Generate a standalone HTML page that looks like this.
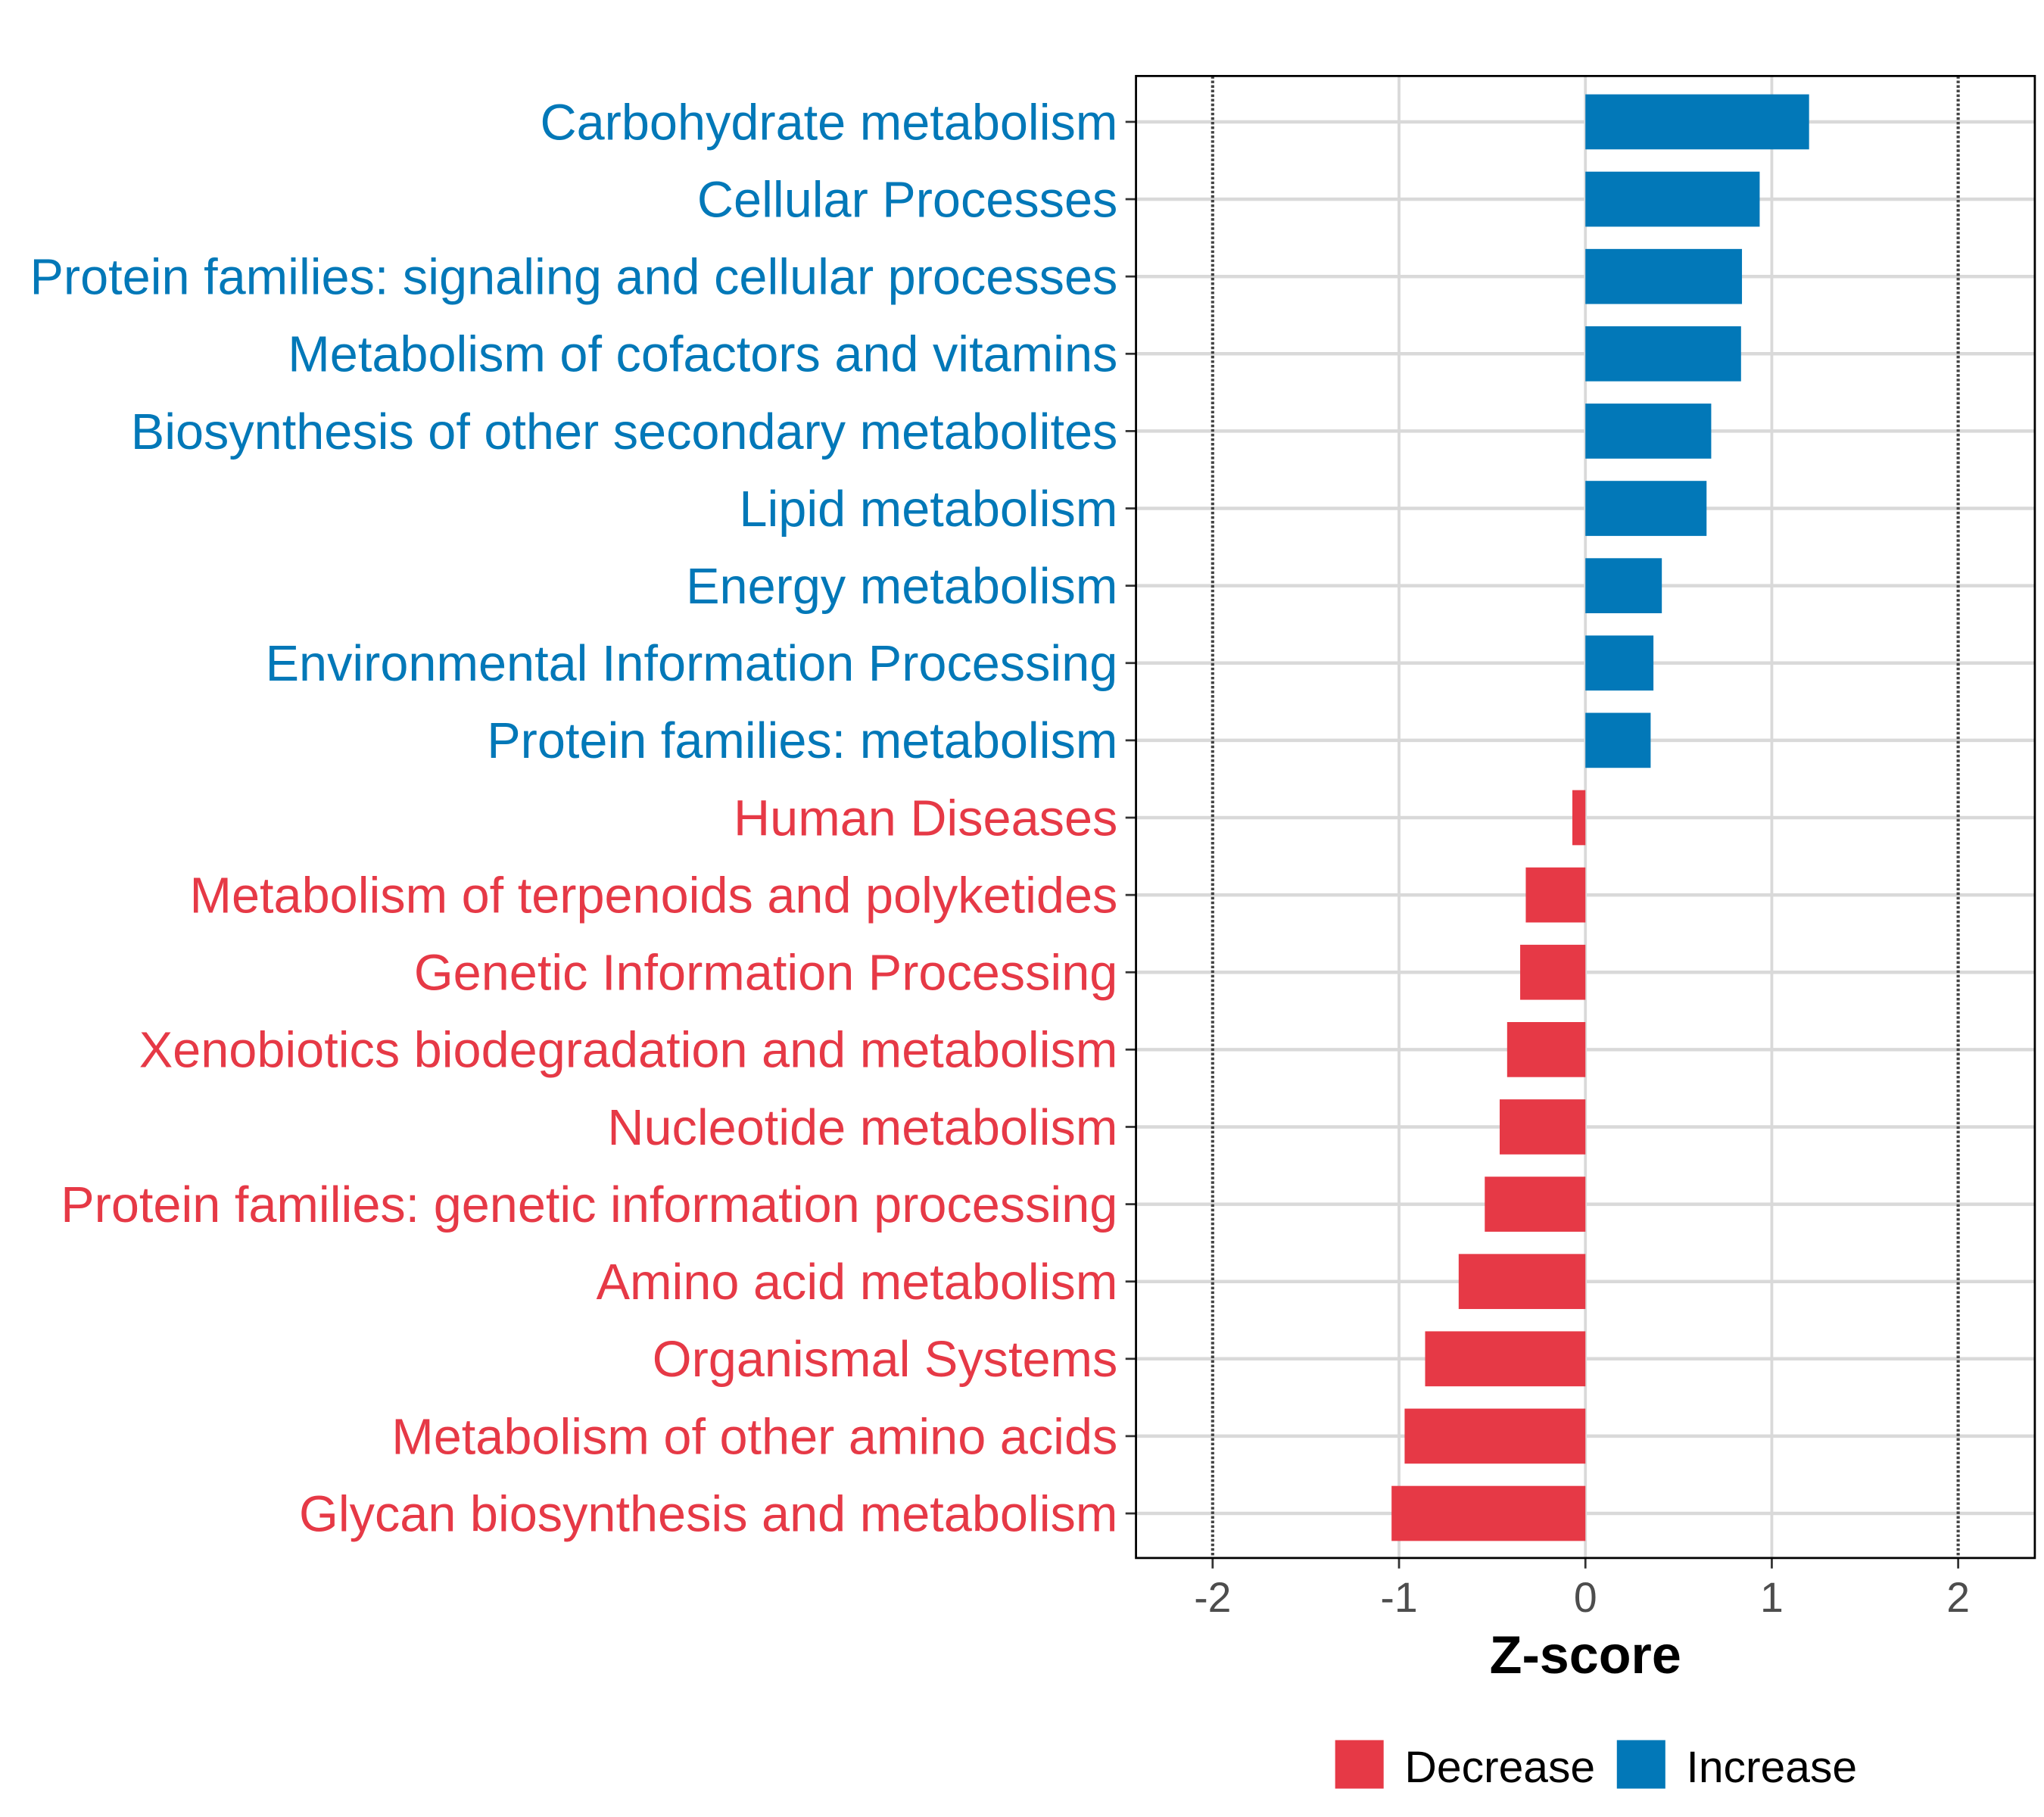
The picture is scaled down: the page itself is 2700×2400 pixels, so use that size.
<!DOCTYPE html>
<html><head><meta charset="utf-8"><style>html,body{margin:0;padding:0;background:#fff}svg{display:block}</style></head>
<body>
<svg id="chart" width="2700" height="2400" viewBox="0 0 1560 1386.67" preserveAspectRatio="none" xmlns="http://www.w3.org/2000/svg" font-family="Liberation Sans, Arial, sans-serif">
<rect x="0" y="0" width="1560" height="1386.67" fill="#fff"/>
<g id="grid"></g>
<g id="bars"></g>
<g id="ylabels"></g>
<g id="xaxis"></g>
<rect x="867" y="58" width="686" height="1131" fill="none" stroke="#000" stroke-width="1.6"/>
<text x="1210" y="1277" font-size="40.5" font-weight="bold" text-anchor="middle" fill="#000">Z-score</text>
<g>
<rect x="1019" y="1328" width="37" height="37" fill="#E63946"/>
<text x="1072" y="1360" font-size="34" fill="#000">Decrease</text>
<rect x="1234" y="1328" width="37" height="37" fill="#0278B8"/>
<text x="1287" y="1360" font-size="34" fill="#000">Increase</text>
</g>
</svg>
<script>
const categories = ["Carbohydrate metabolism","Cellular Processes","Protein families: signaling and cellular processes","Metabolism of cofactors and vitamins","Biosynthesis of other secondary metabolites","Lipid metabolism","Energy metabolism","Environmental Information Processing","Protein families: metabolism","Human Diseases","Metabolism of terpenoids and polyketides","Genetic Information Processing","Xenobiotics biodegradation and metabolism","Nucleotide metabolism","Protein families: genetic information processing","Amino acid metabolism","Organismal Systems","Metabolism of other amino acids","Glycan biosynthesis and metabolism"];
const zscores = [1.20,0.935,0.84,0.835,0.675,0.65,0.41,0.365,0.35,-0.07,-0.32,-0.35,-0.42,-0.46,-0.54,-0.68,-0.86,-0.97,-1.04];
const xTicks = [-2,-1,0,1,2];
const xTickLabels = ["-2","-1","0","1","2"];
const refLines = [-2,2];

const NS="http://www.w3.org/2000/svg";
const PL=867, PR=1553, PT=58, PB=1189;
function xs(v){ return 1210 + v*142.25; }
function ys(i){ return 93 + i*59; }
function mk(tag, attrs, parent){ const e=document.createElementNS(NS,tag); for(const k in attrs) e.setAttribute(k,attrs[k]); parent.appendChild(e); return e; }
const grid=document.getElementById('grid'), bars=document.getElementById('bars'), yl=document.getElementById('ylabels'), xa=document.getElementById('xaxis');
xTicks.forEach((t,i)=>{
  if(refLines.indexOf(t)<0){
    const g=mk('line',{x1:xs(t),x2:xs(t),y1:PT,y2:PB,stroke:'#d9d9d9','stroke-width':2.2},grid);
    
    
  }
  const tk=mk('line',{x1:xs(t),x2:xs(t),y1:PB,y2:PB+8,stroke:'#333','stroke-width':1.6},xa);
  
  
  const tl=mk('text',{x:xs(t),y:1230,'font-size':32,'text-anchor':'middle',fill:'#4d4d4d'},xa);
  
  
  tl.textContent=xTickLabels[i];
});
categories.forEach((c,i)=>{
  const g=mk('line',{x1:PL,x2:PR,y1:ys(i),y2:ys(i),stroke:'#d9d9d9','stroke-width':2.6},grid);
  
  
});
refLines.forEach(r=>{
  const l=mk('line',{x1:xs(r),x2:xs(r),y1:PT,y2:PB,stroke:'#444','stroke-width':2.4,'stroke-dasharray':'2,1.5'},grid);
  
  
});
categories.forEach((c,i)=>{
  const v=zscores[i], col=v>=0?'#0278B8':'#E63946';
  const x0=Math.min(xs(0),xs(v)), w=Math.abs(xs(v)-xs(0));
  const b=mk('rect',{x:x0,y:ys(i)-21,width:w,height:42,fill:col},bars);
  
  
  const tk=mk('line',{x1:PL-8,x2:PL,y1:ys(i),y2:ys(i),stroke:'#333','stroke-width':1.6},yl);
  
  
  const t=mk('text',{x:853,y:ys(i)+13.5,'font-size':38.5,'text-anchor':'end',fill:col},yl);
  
  
  t.textContent=c;
});
</script>
</body></html>
